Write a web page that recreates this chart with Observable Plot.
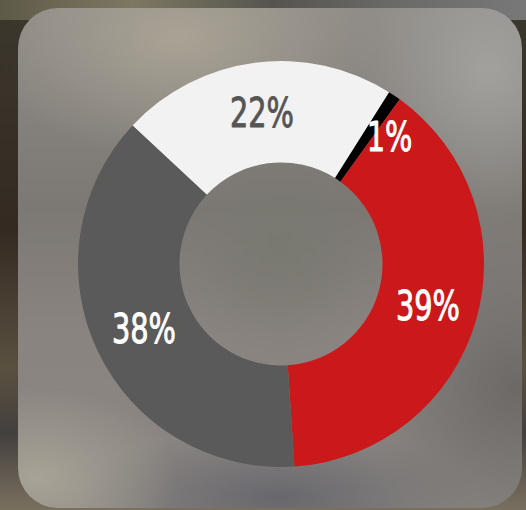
<!DOCTYPE html>
<html><head><meta charset="utf-8">
<script src="https://cdn.jsdelivr.net/npm/d3@7"></script>
<script src="https://cdn.jsdelivr.net/npm/@observablehq/plot@0.6"></script>
<style>
html,body{margin:0;padding:0;width:526px;height:510px;overflow:hidden;}
body{position:relative;background:
  linear-gradient(180deg, rgba(60,56,46,1) 0%, rgba(52,42,34,1) 45%, rgba(90,80,64,1) 72%, rgba(68,64,62,1) 85%, rgba(122,112,96,1) 100%);}
#topband{position:absolute;left:0;top:0;width:526px;height:20px;background:linear-gradient(90deg,#5e5a48 0%,#7d7862 25%,#56544f 52%,#6a6a68 75%,#787878 100%);}
#panel{position:absolute;left:18px;top:8px;width:504px;height:500px;border-radius:40px;overflow:hidden;
  background:
   radial-gradient(ellipse 140px 90px at 20px 470px, rgba(170,166,152,0.9), rgba(170,166,152,0) 100%),
   radial-gradient(ellipse 200px 70px at 260px 490px, rgba(100,100,106,0.9), rgba(100,100,106,0) 100%),
   radial-gradient(ellipse 160px 160px at 500px 380px, rgba(100,98,96,0.8), rgba(100,98,96,0) 100%),
   radial-gradient(ellipse 200px 120px at 160px 30px, rgba(172,166,150,0.9), rgba(172,166,150,0) 100%),
   radial-gradient(ellipse 140px 160px at 470px 60px, rgba(164,164,160,0.9), rgba(164,164,160,0) 100%),
   radial-gradient(ellipse 110px 110px at 262px 240px, rgba(120,120,112,0.9), rgba(120,120,112,0) 100%),
   linear-gradient(180deg, #8e8a86 0%, #7c7874 40%, #8a8480 65%, #8a8682 100%);}
#chart{position:absolute;left:0;top:0;}
</style></head><body>
<div id="topband"></div><div id="panel"></div><div id="chart"></div>
<script>
const segments = ["light", "black", "red", "dark"];
const shares = [22, 1, 39, 38];
const shareLabels = ["22%", "1%", "39%", "38%"];
const segmentColors = ["#f2f2f2", "#000000", "#cb191b", "#5a5a5a"];

const startDeg = -47;
const innerFrac = 0.5;

const rows = segments.map((s, i) => ({segment: s, value: shares[i], label: shareLabels[i]}));
const a0 = startDeg * Math.PI / 180;
const arcs = d3.pie().sort(null).value(d => d.value).startAngle(a0).endAngle(a0 + 2 * Math.PI)(rows);
const unitArc = d3.arc().innerRadius(innerFrac).outerRadius(1);
rows.forEach((r, i) => { const c = unitArc.centroid(arcs[i]); r.cx = c[0]; r.cy = -c[1]; });

function donut(index, scales) {
  const cx = scales.x(0), cy = scales.y(0), R = scales.x(1) - scales.x(0);
  const arc = d3.arc().innerRadius(R * innerFrac).outerRadius(R);
  const g = d3.create("svg:g").attr("transform", `translate(${cx},${cy})`);
  g.selectAll("path").data(arcs).join("path")
    .attr("d", arc)
    .attr("fill", d => scales.color(d.data.segment));
  return g.node();
}

const font = "'DejaVu Sans Condensed',sans-serif";
const textOpts = {x: "cx", y: "cy", text: "label", fontSize: 41, fontFamily: font, strokeWidth: 0.9};

const chart = Plot.plot({
  width: 526, height: 510,
  marginTop: 0, marginRight: 0, marginBottom: 0, marginLeft: 0,
  x: {domain: [-1, 1], range: [78, 484], axis: null},
  y: {domain: [-1, 1], range: [467, 61], axis: null},
  color: {domain: segments, range: segmentColors},
  style: {background: "transparent", overflow: "visible"},
  marks: [
    Plot.dot(rows, {x: "cx", y: "cy", fill: "segment", r: 0}),
    donut,
    Plot.text(rows.filter(d => d.segment === "light"), {...textOpts, fill: "#555555", stroke: "#555555"}),
    Plot.text(rows.filter(d => d.segment !== "light" && d.value >= 5), {...textOpts, fill: "white", stroke: "white"}),
    Plot.text(rows.filter(d => d.segment !== "light" && d.value < 5), {...textOpts, fill: "white", stroke: "white", textAnchor: "start"})
  ]
});
// condense the label glyphs horizontally (narrow display face)
d3.select(chart).selectAll("text").each(function() {
  const t = this.getAttribute("transform") || "";
  this.setAttribute("transform", t + " scale(0.78,1)");
});
document.getElementById("chart").appendChild(chart);
</script>
</body></html>
